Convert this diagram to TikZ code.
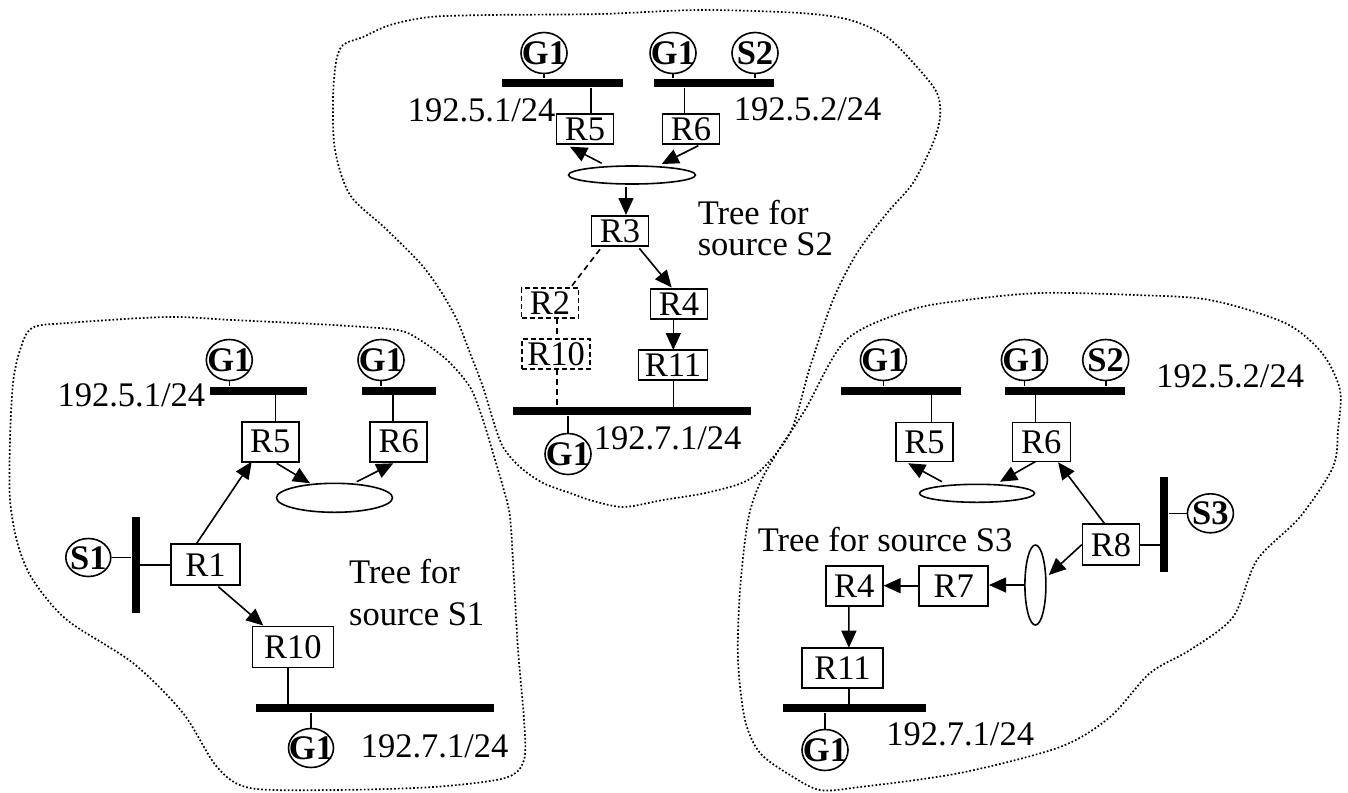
\documentclass[tikz,border=0pt]{standalone}
\usepackage{fontspec}
\setmainfont{Liberation Serif}
\usetikzlibrary{arrows.meta,shapes.geometric,calc}
\newcommand{\ctxt}[1]{\makebox[0pt]{\raisebox{-11.6pt}[0pt][0pt]{\bfseries #1}}}
\begin{document}
\begin{tikzpicture}[x=1pt,y=-1pt, line width=1.6pt,
  font=\fontsize{34.5}{40}\selectfont,
  box/.style={draw, rectangle, inner sep=0pt, minimum width=57pt, minimum height=30pt},
  dbox/.style={box, dash pattern=on 5pt off 3pt},
  circ/.style={draw, ellipse, inner sep=0pt, minimum width=46pt, minimum height=41pt},
  ell/.style={draw, ellipse, inner sep=0pt},
  hbar/.style={fill=black, inner sep=0pt, minimum height=8pt},
  vbar/.style={fill=black, inner sep=0pt, minimum width=7.5pt},
  arr/.style={-{Triangle[length=17pt,width=15pt]}},
  dline/.style={dash pattern=on 6pt off 4pt},
  blob/.style={dash pattern=on 1.7pt off 2.1pt, line width=1.7pt},
  lbl/.style={inner sep=0pt, anchor=base west},
  tlbl/.style={inner sep=0pt, anchor=base west, align=left}
]
\useasboundingbox (0,0) rectangle (1348,792);
\fill[white] (0,0) rectangle (1348,792);

% ---------- dotted regions ----------
\draw[blob] plot[smooth cycle] coordinates {
 (336,62) (333,100) (335,150) (350,195) (385,228) (420,263) (440,290) (457,320)
 (470,353) (483,387) (493,420) (503,447) (520,467) (543,483) (570,493) (590,500)
 (623,507) (663,500) (710,492) (753,477) (790,433) (810,367) (833,300) (857,253)
 (887,213) (913,183) (933,143) (940,117) (937,93) (917,67) (887,37) (850,20)
 (800,13) (700,10) (600,14) (490,15) (430,17) (390,25) (363,37) (343,45)};
\draw[blob] plot[smooth cycle] coordinates {
 (32,328) (67,323) (167,317) (233,320) (333,325) (397,330) (420,340) (447,360)
 (470,387) (483,420) (493,453) (503,487) (510,517) (514,580) (518,650) (524,720)
 (524,760) (505,778) (433,787) (333,790) (250,788) (217,767) (183,713) (133,663)
 (67,620) (33,580) (18,545) (10,500) (10,440) (13,383) (20,350)};
\draw[blob] plot[smooth cycle] coordinates {
 (846,340) (910,310) (966,300) (1041,293) (1135,295) (1210,300) (1285,323) (1322,353)
 (1340,390) (1338,430) (1333,467) (1300,517) (1257,560) (1233,617) (1190,650) (1150,673)
 (1110,717) (1060,747) (960,773) (860,787) (820,790) (790,775) (760,753) (745,720)
 (738,660) (740,590) (748,520) (760,483) (780,448) (805,410)};

% ---------- top: tree for source S2 ----------
\node[circ] (tG1a) at (544,53) {\ctxt{G1}};
\node[circ] (tG1b) at (673,53) {\ctxt{G1}};
\node[circ] (tS2) at (755,53) {\ctxt{S2}};
\node[hbar, minimum width=121pt] (tBarL) at (562.2,83) {};
\node[hbar, minimum width=120pt] (tBarR) at (714,83) {};
\node[lbl] (tLa) at (407,121) {192.5.1/24};
\node[lbl] (tLb) at (733,120.5) {192.5.2/24};
\node[box] (tR5) at (585,129) {R5};
\node[box] (tR6) at (691,129) {R6};
\node[ell, minimum width=127pt, minimum height=18pt] (tE) at (632,175) {};
\node[box] (tR3) at (620,231) {R3};
\node[tlbl, font=\fontsize{34.5}{31}\selectfont] (tT) at (697,255) {Tree for\\source S2};
\node[dbox] (tR2) at (550,303) {R2};
\node[dbox, minimum width=68pt] (tR10) at (556,354) {R10};
\node[box] (tR4) at (679,304) {R4};
\node[box, minimum width=69pt] (tR11) at (673,365) {R11};
\node[hbar, minimum width=238pt] (tBarB) at (632,411) {};
\node[circ] (tG1c) at (568,454) {\ctxt{G1}};
\node[lbl] (tLc) at (593,449) {192.7.1/24};

\draw (tG1a.south) -- (tG1a.south |- tBarL.north);
\draw (tG1b.south) -- (tG1b.south |- tBarR.north);
\draw (tS2.south) -- (tS2.south |- tBarR.north);
\draw ($(tR5.north)+(6,0)$) -- ($(tBarL.south)+(28.8,0)$);
\draw ($(tR6.north)+(-6.7,0)$) -- ($(tBarR.south)+(-29.7,0)$);
\draw[arr] ($(tE)+(-30.3,-11.7)$) -- ($(tR5)+(-15,17.7)$);
\draw[arr] ($(tR6)+(7.3,16.7)$) -- ($(tE)+(29.7,-11)$);
\draw[arr] ($(tE)+(-6,11.7)$) -- ($(tR3)+(6,-16)$);
\draw[dline] ($(tR3)+(-20,18.3)$) -- ($(tR2)+(20,-14.7)$);
\draw[dline] ($(tR2)+(6.7,15)$) -- ($(tR10)+(0.7,-15)$);
\draw[dline] ($(tR10)+(0.7,15)$) -- ($(tBarB)+(-75.3,-4)$);
\draw[arr] ($(tR3)+(19.3,17.3)$) -- ($(tR4)+(-7.3,-16.5)$);
\draw[arr] ($(tR4)+(-5.7,15)$) -- ($(tR11)+(0.3,-15)$);
\draw ($(tR11)+(0.3,15)$) -- ($(tBarB)+(41.3,-4)$);
\draw (tBarB.south -| tG1c) -- (tG1c.north);

% ---------- left: tree for source S1 ----------
\node[circ] (lG1a) at (229.3,360) {\ctxt{G1}};
\node[circ] (lG1b) at (381,360) {\ctxt{G1}};
\node[hbar, minimum width=96.7pt] (lBarL) at (258.3,391) {};
\node[hbar, minimum width=74pt] (lBarR) at (398.7,391) {};
\node[lbl] (lLa) at (56.7,406) {192.5.1/24};
\node[box, minimum height=40pt] (lR5) at (270.3,441.7) {R5};
\node[box, minimum height=40pt] (lR6) at (398.7,441.7) {R6};
\node[ell, minimum width=116pt, minimum height=29pt] (lE) at (334.5,497.8) {};
\node[vbar, minimum height=95.4pt] (lS1bar) at (135.8,565) {};
\node[circ, minimum width=45pt, minimum height=38pt] (lS1) at (88.3,557.5) {\ctxt{S1}};
\node[box, minimum width=69pt, minimum height=41pt] (lR1) at (205.5,564.7) {R1};
\node[tlbl, font=\fontsize{34.5}{42}\selectfont] (lT) at (348.3,625) {Tree for\\source S1};
\node[box, minimum width=81pt, minimum height=41pt] (lR10) at (292.8,647) {R10};
\node[hbar, minimum width=238pt] (lBarB) at (375,708.3) {};
\node[circ, minimum width=45pt, minimum height=39pt] (lG1c) at (311,748) {\ctxt{G1}};
\node[lbl] (lLc) at (360,757) {192.7.1/24};

\draw (lG1a.south) -- (lG1a.south |- lBarL.north);
\draw (lG1b.south) -- (lG1b.south |- lBarR.north);
\draw ($(lR5)+(5,-20)$) -- ($(lBarL)+(17,4)$);
\draw ($(lR6)+(-6,-20)$) -- ($(lBarR)+(-6,4)$);
\draw[arr] ($(lR5)+(6.4,21.6)$) -- ($(lE)+(-24.5,-14.5)$);
\draw[arr] ($(lE)+(22.2,-16.1)$) -- ($(lR6)+(-5.4,21.6)$);
\draw[arr] ($(lR1)+(-9.5,-20.4)$) -- ($(lR5)+(-18.6,20)$);
\draw[arr] ($(lR1)+(12.8,22)$) -- ($(lR10)+(-29.5,-21.5)$);
\draw ($(lR10)+(-5.1,20.5)$) -- ($(lBarB)+(-87.3,-4)$);
\draw (lBarB.south -| lG1c) -- (lG1c.north);
\draw (lS1.east) -- (lS1.east -| lS1bar.west);
\draw (lR1.west) -- (lR1.west -| lS1bar.east);

% ---------- right: tree for source S3 ----------
\node[circ] (rG1a) at (883.4,360) {\ctxt{G1}};
\node[circ] (rG1b) at (1024.4,360) {\ctxt{G1}};
\node[circ] (rS2) at (1105.7,360) {\ctxt{S2}};
\node[hbar, minimum width=120.8pt] (rBarL) at (901,390.5) {};
\node[hbar, minimum width=120pt] (rBarR) at (1064.5,390.5) {};
\node[lbl] (rLa) at (1155.6,387) {192.5.2/24};
\node[box, minimum height=39pt] (rR5) at (924.4,442) {R5};
\node[box, minimum width=58pt, minimum height=39pt] (rR6) at (1041.3,442) {R6};
\node[ell, minimum width=115pt, minimum height=18pt] (rE) at (977,493.3) {};
\node[box, minimum height=41pt] (rR8) at (1111,544.7) {R8};
\node[vbar, minimum height=95pt] (rS3bar) at (1164.2,524.2) {};
\node[circ, minimum height=39pt] (rS3) at (1210.4,513.3) {\ctxt{S3}};
\node[lbl] (rTa) at (757,551) {Tree for source S3};
\node[ell, minimum width=21pt, minimum height=80pt] (rVE) at (1035.4,585) {};
\node[box, minimum width=69pt, minimum height=40pt] (rR7) at (953.7,585.7) {R7};
\node[box, minimum height=40pt] (rR4) at (854.3,585.7) {R4};
\node[box, minimum width=81pt, minimum height=40pt] (rR11) at (842.5,667.7) {R11};
\node[hbar, minimum width=143.5pt] (rBarB) at (854.25,708.3) {};
\node[circ] (rG1c) at (825,750) {\ctxt{G1}};
\node[lbl] (rLc) at (885.6,745) {192.7.1/24};

\draw (rG1a.south) -- (rG1a.south |- rBarL.north);
\draw (rG1b.south) -- (rG1b.south |- rBarR.north);
\draw (rS2.south) -- (rS2.south |- rBarR.north);
\draw ($(rR5)+(7,-19.5)$) -- ($(rBarL)+(30.4,4)$);
\draw ($(rR6)+(-5.7,-19.5)$) -- ($(rBarR)+(-28.9,4)$);
\draw[arr] ($(rE)+(-35.1,-11.6)$) -- ($(rR5)+(-16.3,21.3)$);
\draw[arr] ($(rR6)+(-5.7,19.5)$) -- ($(rE)+(23,-11.6)$);
\draw[arr] ($(rR8)+(-6,-20.5)$) -- ($(rR6)+(16.8,20.3)$);
\draw (rR8.east) -- (rR8.east -| rS3bar.west);
\draw (rS3.west -| rS3bar.east) -- (rS3.west);
\draw[arr] (rR8.west) -- ($(rVE)+(13.35,-10)$);
\draw[arr] (rVE.west) -- (rVE.west -| rR7.east);
\draw[arr] (rR7.west) -- (rR7.west -| rR4.east);
\draw[arr] ($(rR4)+(-5.4,20)$) -- ($(rR11)+(6.4,-20)$);
\draw ($(rR11)+(6.4,20)$) -- ($(rBarB)+(-5.35,-4)$);
\draw (rBarB.south -| rG1c) -- (rG1c.north);
\end{tikzpicture}
\end{document}
